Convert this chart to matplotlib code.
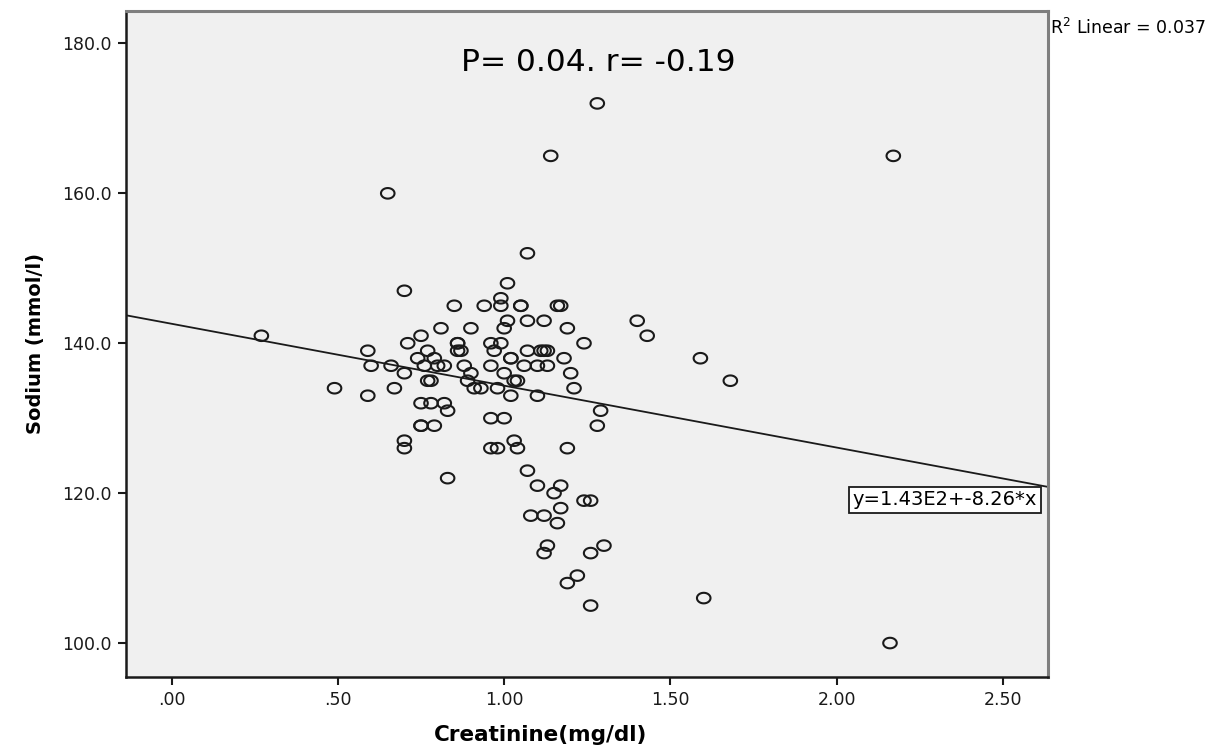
import numpy as np
import matplotlib
matplotlib.use("Agg")
import matplotlib.pyplot as plt
from matplotlib.path import Path

# Creatinine (mg/dl) and sodium (mmol/l)
creatinine = [
    0.27, 0.49, 0.59, 0.59, 0.60, 0.65, 0.66, 0.67, 0.70, 0.71,
    0.70, 0.70, 0.70, 0.74, 0.75, 0.75, 0.75, 0.75, 0.76, 0.77,
    0.77, 0.78, 0.78, 0.79, 0.79, 0.80, 0.81, 0.82, 0.82, 0.83,
    0.83, 0.85, 0.86, 0.86, 0.86, 0.87, 0.88, 0.89, 0.90, 0.90,
    0.91, 0.93, 0.94, 0.96, 0.99, 0.97, 0.96, 0.96, 0.96, 0.98,
    0.98, 0.99, 0.99, 1.00, 1.00, 1.00, 1.01, 1.02, 1.02, 1.02,
    1.03, 1.04, 1.03, 1.04, 1.05, 1.05, 1.06, 1.07, 1.07, 1.07,
    1.07, 1.08, 1.10, 1.10, 1.10, 1.11, 1.12, 1.13, 1.12, 1.13,
    1.12, 1.13, 1.12, 1.14, 1.15, 1.16, 1.17, 1.16, 1.17, 1.17,
    1.18, 1.19, 1.19, 1.19, 1.20, 1.21, 1.22, 1.24, 1.24, 1.26,
    1.26, 1.26, 1.28, 1.28, 1.29, 1.30, 1.40, 1.43, 1.59, 1.60,
    1.68, 2.16, 2.17, 1.01,
]
sodium = [
    141, 134, 139, 133, 137, 160, 137, 134, 147, 140,
    136, 127, 126, 138, 141, 132, 129, 129, 137, 139,
    135, 135, 132, 138, 129, 137, 142, 137, 132, 131,
    122, 145, 140, 140, 139, 139, 137, 135, 142, 136,
    134, 134, 145, 140, 140, 139, 137, 130, 126, 134,
    126, 146, 145, 136, 130, 142, 143, 138, 138, 133,
    135, 135, 127, 126, 145, 145, 137, 143, 139, 123,
    152, 117, 137, 133, 121, 139, 139, 139, 143, 137,
    117, 113, 112, 165, 120, 145, 145, 116, 121, 118,
    138, 142, 126, 108, 136, 134, 109, 140, 119, 119,
    112, 105, 172, 129, 131, 113, 143, 141, 138, 106,
    135, 100, 165, 148,
]

# fit line as reported in the chart
intercept = 142.6
slope = -8.26
r_squared = 0.037

x_ticks = [0.0, 0.5, 1.0, 1.5, 2.0, 2.5]
x_tick_labels = [".00", ".50", "1.00", "1.50", "2.00", "2.50"]
y_ticks = [100, 120, 140, 160, 180]

plt.rcParams["font.family"] = ["DejaVu Sans"]

fig = plt.figure(figsize=(12.2, 7.47), dpi=100)
ax = fig.add_axes([0.103, 0.094, 0.756, 0.891])
ax.set_facecolor("#f0f0f0")

# slightly flattened open circle like the SPSS marker
t = np.linspace(0, 2 * np.pi, 60)
ellipse = Path(np.column_stack([np.cos(t), 0.78 * np.sin(t)]), closed=True)

ax.scatter(creatinine, sodium, s=95, marker=ellipse, facecolors="none",
           edgecolors="#1a1a1a", linewidths=1.5, zorder=3)

xlim = (-0.138, 2.635)
ylim = (95.5, 184.3)
xs = np.array(xlim)
ax.plot(xs, intercept + slope * xs, color="#1a1a1a", linewidth=1.3, zorder=2)
ax.set_xlim(xlim)
ax.set_ylim(ylim)

ax.text(2.325, 119.1, "y=1.43E2+-8.26*x", ha="center", va="center",
        fontsize=14, zorder=4,
        bbox=dict(boxstyle="square,pad=0.2", facecolor="white",
                  edgecolor="#1a1a1a", linewidth=1.3))

ax.text(0.512, 0.923, "P= 0.04. r= -0.19", transform=ax.transAxes,
        ha="center", va="center", fontsize=22.5)

fig.text(0.861, 0.962, f"R$^2$ Linear = {r_squared:.3f}", ha="left",
         va="center", fontsize=12.5)

ax.set_xticks(x_ticks)
ax.set_xticklabels(x_tick_labels)
ax.set_yticks(y_ticks)
ax.set_yticklabels([f"{v:.1f}" for v in y_ticks])
ax.tick_params(direction="out", length=6, width=1.5, labelsize=12.5,
               colors="#1a1a1a", pad=4)

for side in ("left", "bottom"):
    ax.spines[side].set_color("#1a1a1a")
    ax.spines[side].set_linewidth(1.8)
for side in ("top", "right"):
    ax.spines[side].set_color("#7f7f7f")
    ax.spines[side].set_linewidth(2.2)

ax.set_xlabel("Creatinine(mg/dl)", fontsize=15.5, fontweight="bold", va="center")
ax.xaxis.set_label_coords(0.45, -0.088)
ax.set_ylabel("Sodium (mmol/l)", fontsize=14, fontweight="bold", labelpad=12)

fig.savefig("out.png", dpi=100, facecolor="white")
